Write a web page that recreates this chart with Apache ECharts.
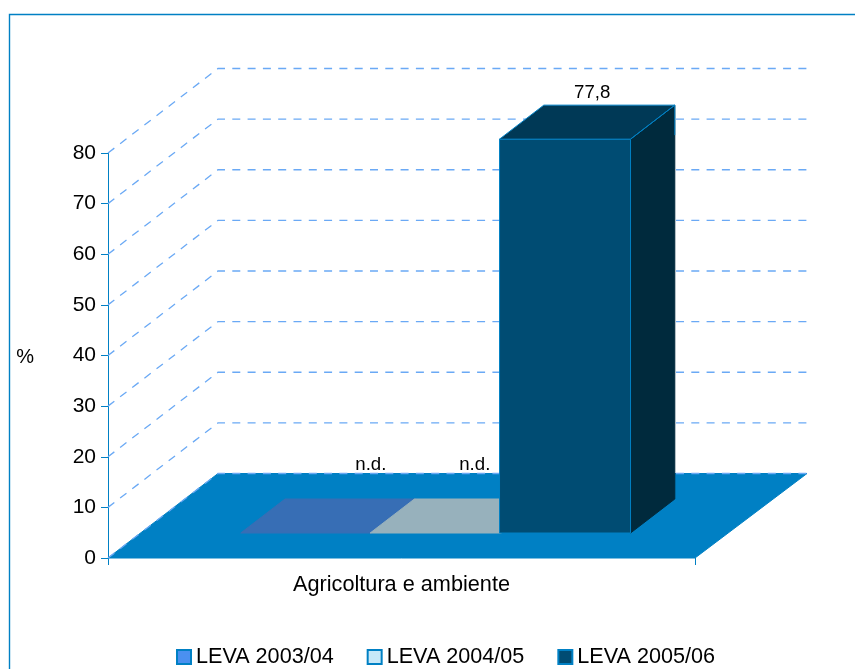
<!DOCTYPE html>
<html>
<head>
<meta charset="utf-8">
<style>html,body{margin:0;padding:0;background:#fff;overflow:hidden}#chart{width:855px;height:669px}</style>
<script src="https://cdn.jsdelivr.net/npm/echarts@6/dist/echarts.min.js"></script>
</head>
<body>
<div id="chart"></div>
<script>
const categories = ['Agricoltura e ambiente'];
const seriesNames = ['LEVA 2003/04', 'LEVA 2004/05', 'LEVA 2005/06'];
const values2003 = [0];
const values2004 = [0];
const values2005 = [77.8];
const valueLabels = ['n.d.', 'n.d.', '77,8'];
const yTicks = [0, 10, 20, 30, 40, 50, 60, 70, 80];

const FONT = '"Liberation Sans", Arial, sans-serif';
const BLUE = '#0080C4';
const GRID = '#6AA9F5';
const DX = 110, DY = -84.5;            // full depth of the 3D floor
const D0 = 25 / 84.5, D1 = 59 / 84.5;  // bar front/back as fraction of depth
const BAR_RATIO = 131 / 587;
const BAR_STEP = 129.4 / 587;
const BAR_NUDGE = 1.6;
const palette = [
  { legend: '#4A90F0', front: '#4A90F0', top: '#376EB5', side: '#2A5590' },
  { legend: '#C7E8F8', front: '#C7E8F8', top: '#97B1BC', side: '#7A909A' },
  { legend: '#004C73', front: '#004C73', top: '#003956', side: '#002A3D' }
];
const labelShift = [[42.5, -34], [17, -34], [5, -12]];

function poly(points, fill, stroke) {
  return { type: 'polygon', shape: { points }, style: { fill, stroke: stroke || fill, lineWidth: 1 } };
}

function barSeries(i, values) {
  return {
    type: 'custom',
    name: seriesNames[i],
    coordinateSystem: 'cartesian2d',
    z: 5 + i,
    clip: false,
    silent: true,
    itemStyle: { color: palette[i].legend, borderColor: BLUE, borderWidth: 1.5 },
    encode: { x: 0, y: 1 },
    data: values.map((v, k) => [k, v]),
    renderItem(params, api) {
      const cat = api.value(0), val = api.value(1);
      const band = api.size([1, 0])[0];
      const bw = band * BAR_RATIO;
      const base = api.coord([cat, 0]);
      const head = api.coord([cat, val]);
      const x0 = base[0] + (i - 1) * band * BAR_STEP - bw / 2 + DX * D0 + BAR_NUDGE;
      const x1 = x0 + bw;
      const yb = base[1] + DY * D0, yt = head[1] + DY * D0;
      const ox = DX * (D1 - D0), oy = DY * (D1 - D0);
      const c = palette[i];
      const edge = val > 0 ? BLUE : c.top;
      const children = [];
      if (val > 0) {
        children.push(poly([[x1, yb], [x1 + ox, yb + oy], [x1 + ox, yt + oy], [x1, yt]], c.side, '#002A3D'));
        children.push(poly([[x0, yb], [x1, yb], [x1, yt], [x0, yt]], c.front, edge));
      }
      children.push(poly([[x0, yt], [x1, yt], [x1 + ox, yt + oy], [x0 + ox, yt + oy]], c.top, edge));
      if (val > 0) {
        children.push({ type: 'polyline', shape: { points: [[x1, yt], [x1 + ox, yt + oy], [x1 + ox, yt + oy + 30]] }, style: { stroke: BLUE, fill: 'none', lineWidth: 1 } });
      }
      children.push({
        type: 'text',
        style: {
          x: (x0 + x1 + ox) / 2 + labelShift[i][0],
          y: yt + oy + labelShift[i][1],
          text: valueLabels[i],
          fill: '#000',
          font: '18.67px ' + FONT,
          align: 'center',
          verticalAlign: 'middle'
        }
      });
      return { type: 'group', children };
    }
  };
}

const floorSeries = {
  type: 'custom',
  name: 'floor',
  coordinateSystem: 'cartesian2d',
  z: 1,
  clip: false,
  silent: true,
  encode: { x: 0, y: 1 },
  data: [[0, 0]],
  renderItem(params, api) {
    const p = api.coord([api.value(0), 0]);
    const w = api.size([1, 0])[0];
    const l = p[0] - w / 2, r = p[0] + w / 2, y = p[1];
    return poly([[l, y], [r, y], [r + DX + 2, y + DY], [l + DX, y + DY]], BLUE);
  }
};

const gridSeries = {
  type: 'custom',
  name: 'walls',
  coordinateSystem: 'cartesian2d',
  z: 2,
  clip: false,
  silent: true,
  encode: { x: 0, y: 1 },
  data: yTicks.map(t => [0, t]),
  renderItem(params, api) {
    const p = api.coord([api.value(0), api.value(1)]);
    const w = api.size([1, 0])[0];
    const l = p[0] - w / 2, r = p[0] + w / 2, y = p[1];
    return {
      type: 'polyline',
      shape: { points: [[l, y], [l + DX, y + DY], [r + DX + 2, y + DY]] },
      style: { stroke: GRID, fill: 'none', lineWidth: 1.3, lineDash: [8, 7.3] }
    };
  }
};

const chart = echarts.init(document.getElementById('chart'), null, { renderer: 'canvas' });
chart.setOption({
  animation: false,
  backgroundColor: '#fff',
  textStyle: { fontFamily: FONT },
  grid: { left: 108, right: 160, top: 153, height: 405, containLabel: false },
  graphic: [{
    type: 'polyline',
    silent: true,
    shape: { points: [[9.5, 669], [9.5, 14.5], [855, 14.5]] },
    style: { stroke: BLUE, fill: 'none', lineWidth: 1.4 }
  }],
  xAxis: {
    type: 'category',
    data: categories,
    axisLine: { show: false },
    axisTick: { show: true, length: 7, alignWithLabel: false, lineStyle: { color: BLUE, width: 1 } },
    axisLabel: { color: '#000', fontSize: 21.7, fontFamily: FONT, margin: 16 },
    splitLine: { show: false }
  },
  yAxis: {
    type: 'value',
    min: 0,
    max: 80,
    interval: 10,
    name: '%',
    nameLocation: 'middle',
    nameRotate: 0,
    nameGap: 74,
    nameTextStyle: { color: '#000', fontSize: 20, fontFamily: FONT, verticalAlign: 'top', lineHeight: 4 },
    axisLine: { show: true, lineStyle: { color: BLUE, width: 1 } },
    axisTick: { show: true, length: 7, lineStyle: { color: BLUE, width: 1 } },
    axisLabel: { color: '#000', fontSize: 21, fontFamily: FONT, margin: 12 },
    splitLine: { show: false }
  },
  legend: {
    data: seriesNames,
    left: 176,
    top: 646,
    icon: 'rect',
    itemWidth: 14,
    itemHeight: 14,
    itemGap: 33,
    selectedMode: false,
    textStyle: { color: '#000', fontSize: 21.6, fontFamily: FONT, padding: [0, 0, 0, 0] },
    padding: 0
  },
  series: [
    floorSeries,
    gridSeries,
    barSeries(0, values2003),
    barSeries(1, values2004),
    barSeries(2, values2005)
  ]
});
</script>
</body>
</html>
